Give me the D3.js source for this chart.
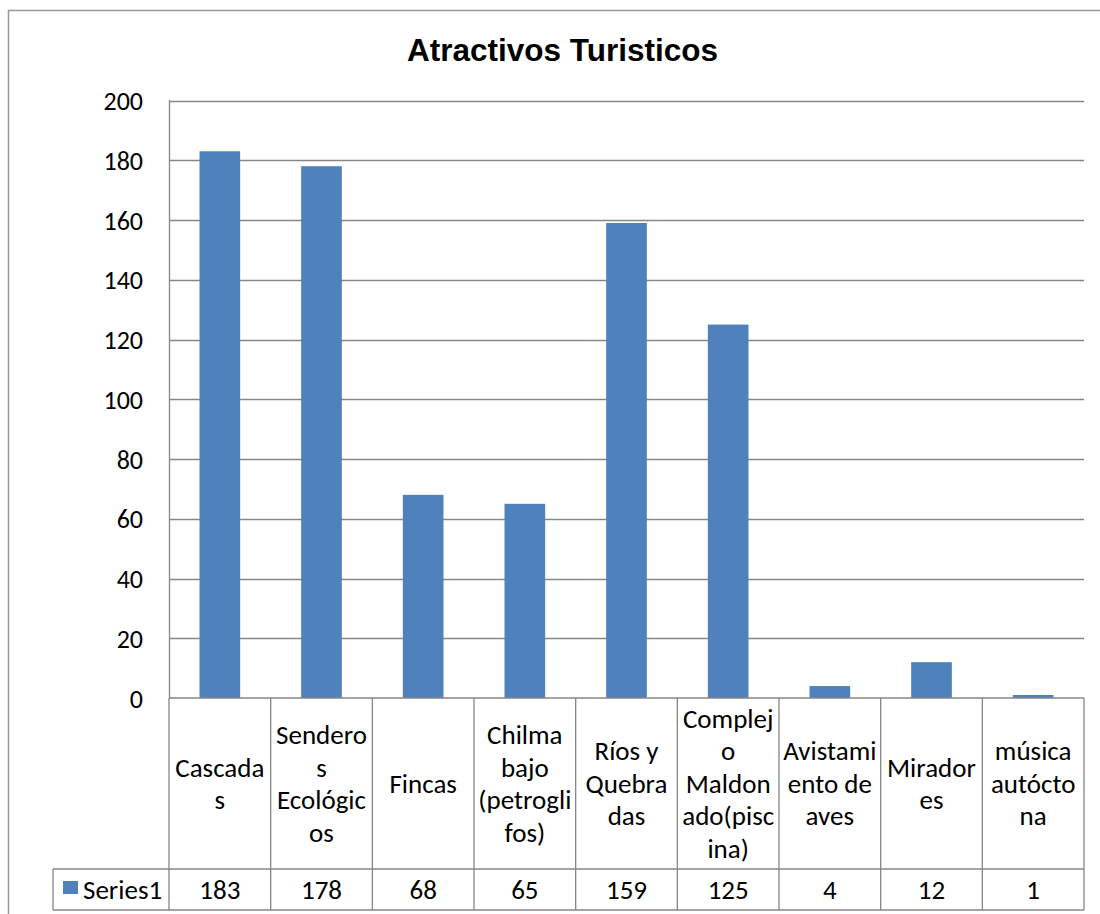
<!DOCTYPE html>
<html>
<head>
<meta charset="utf-8">
<script src="https://cdn.jsdelivr.net/npm/d3@7"></script>
<style>
  html, body { margin: 0; padding: 0; background: #fff; }
  svg { display: block; }
</style>
</head>
<body>
<svg id="chart" width="1100" height="914"></svg>
<script>
const title = "Atractivos Turisticos";
const categories = ["Cascadas", "Senderos Ecológicos", "Fincas", "Chilma bajo (petroglifos)", "Ríos y Quebradas", "Complejo Maldonado(piscina)", "Avistamiento de aves", "Miradores", "música autóctona"];
const categoryLines = [
  ["Cascada", "s"],
  ["Sendero", "s", "Ecológic", "os"],
  ["Fincas"],
  ["Chilma", "bajo", "(petrogli", "fos)"],
  ["Ríos y", "Quebra", "das"],
  ["Complej", "o", "Maldon", "ado(pisc", "ina)"],
  ["Avistami", "ento de", "aves"],
  ["Mirador", "es"],
  ["música", "autócto", "na"]
];
const seriesName = "Series1";
const values = [183, 178, 68, 65, 159, 125, 4, 12, 1];
const yTicks = [0, 20, 40, 60, 80, 100, 120, 140, 160, 180, 200];

const svg = d3.select("#chart");
const font = "Carlito, Calibri, Lato, sans-serif";
const gridColor = "#868686";
const barColor = "#4F81BD";
const tickFs = 26, tableFs = 27;

const plot = { left: 169, right: 1084, top: 100.5, bottom: 698 };
const tableRow1 = 869, tableRow2 = 910, legendLeft = 53;

// outer chart border
svg.append("rect").attr("x", 8.5).attr("y", 10.5).attr("width", 1120).attr("height", 930)
  .attr("fill", "none").attr("stroke", "#999").attr("stroke-width", 1.5);

// title
svg.append("text").attr("x", 562.5).attr("y", 61).attr("text-anchor", "middle")
  .attr("font-family", "'Liberation Sans', Arial, sans-serif").attr("font-weight", "bold")
  .attr("font-size", 31.5).attr("fill", "#000").text(title);

const x = d3.scaleBand().domain(categories).range([plot.left, plot.right]).padding(0);
const y = d3.scaleLinear().domain([0, 200]).range([plot.bottom, plot.top]);

// gridlines
svg.append("g").selectAll("line").data(yTicks.filter(d => d > 0)).join("line")
  .attr("x1", plot.left).attr("x2", plot.right)
  .attr("y1", d => Math.round(y(d)) + 0.5).attr("y2", d => Math.round(y(d)) + 0.5)
  .attr("stroke", gridColor).attr("stroke-width", 1.3);

// y axis labels
const yAxis = d3.axisLeft(y).tickValues(yTicks).tickSize(0).tickPadding(26);
const yg = svg.append("g").attr("transform", `translate(${plot.left},0)`).call(yAxis);
yg.select(".domain").remove();
yg.selectAll("text").attr("font-family", font).attr("font-size", tickFs).attr("fill", "#000").attr("dy", "0.35em");

// bars
const bw = x.bandwidth() * 0.4;
svg.append("g").selectAll("rect").data(values).join("rect")
  .attr("x", (d, i) => x(categories[i]) + (x.bandwidth() - bw) / 2)
  .attr("width", bw)
  .attr("y", d => y(d))
  .attr("height", d => y(0) - y(d))
  .attr("fill", barColor);

// left axis line
svg.append("line").attr("x1", plot.left + 0.5).attr("x2", plot.left + 0.5)
  .attr("y1", plot.top - 0.5).attr("y2", plot.bottom)
  .attr("stroke", gridColor).attr("stroke-width", 1.3);

// data table
const tg = svg.append("g").attr("stroke", gridColor).attr("stroke-width", 1.3);
tg.append("line").attr("x1", plot.left).attr("x2", plot.right).attr("y1", plot.bottom).attr("y2", plot.bottom);
tg.append("line").attr("x1", legendLeft).attr("x2", plot.right).attr("y1", tableRow1).attr("y2", tableRow1);
tg.append("line").attr("x1", legendLeft).attr("x2", plot.right).attr("y1", tableRow2).attr("y2", tableRow2);
tg.append("line").attr("x1", legendLeft).attr("x2", legendLeft).attr("y1", tableRow1).attr("y2", tableRow2);
const bounds = categories.map(c => x(c)).concat([plot.right]);
tg.selectAll("line.v").data(bounds).join("line").attr("class", "v")
  .attr("x1", d => d).attr("x2", d => d).attr("y1", plot.bottom).attr("y2", tableRow2);

// category labels
const lineH = 32.5;
const midY = (plot.bottom + tableRow1) / 2;
categoryLines.forEach((lines, i) => {
  const cx = x(categories[i]) + x.bandwidth() / 2;
  const t = svg.append("text").attr("text-anchor", "middle")
    .attr("font-family", font).attr("font-size", tableFs).attr("fill", "#000");
  lines.forEach((ln, j) => {
    t.append("tspan").attr("x", cx)
      .attr("y", midY + (j - (lines.length - 1) / 2) * lineH)
      .attr("dy", "0.35em").text(ln);
  });
});

// values row
const rowMid = (tableRow1 + tableRow2) / 2;
svg.append("g").selectAll("text").data(values).join("text")
  .attr("x", (d, i) => x(categories[i]) + x.bandwidth() / 2)
  .attr("y", rowMid).attr("dy", "0.35em").attr("text-anchor", "middle")
  .attr("font-family", font).attr("font-size", tableFs).attr("fill", "#000")
  .text(d => d);

// legend key
svg.append("rect").attr("x", 63).attr("y", 881).attr("width", 15).attr("height", 13).attr("fill", barColor);
svg.append("text").attr("x", 83).attr("y", rowMid).attr("dy", "0.35em")
  .attr("font-family", font).attr("font-size", tableFs).attr("fill", "#000").text(seriesName);
</script>
</body>
</html>
